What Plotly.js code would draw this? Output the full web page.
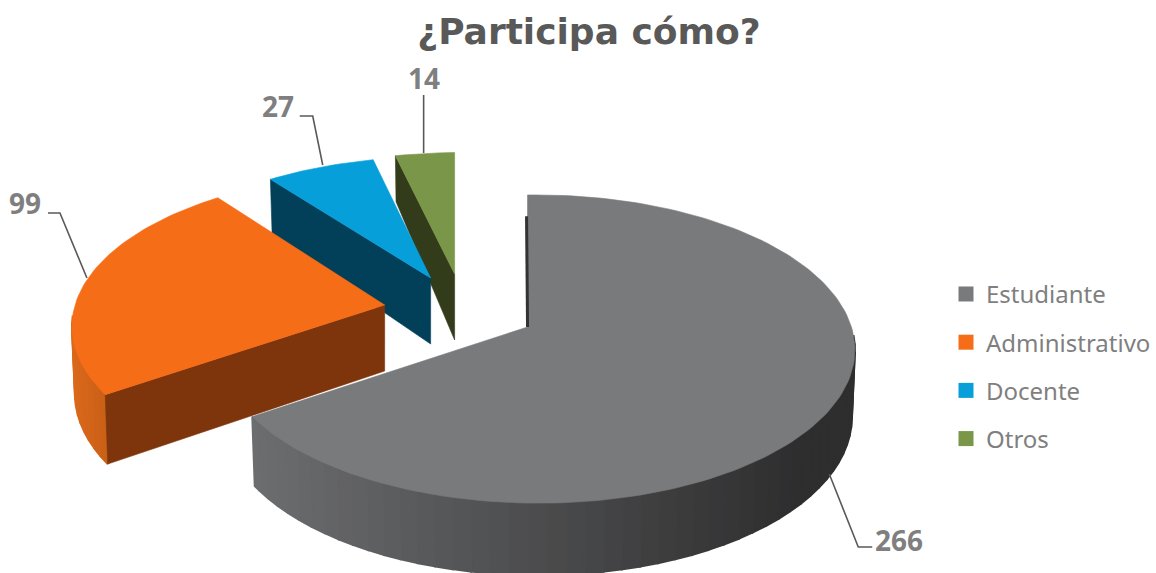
<!DOCTYPE html>
<html><head><meta charset="utf-8">
<script src="https://cdn.plot.ly/plotly-3.0.1.min.js"></script>
<style>html,body{margin:0;padding:0;background:#fff}#c{width:1156px;height:573px}</style>
</head><body><div id="c"></div>
<script>
const categories = ["Estudiante", "Administrativo", "Docente", "Otros"];
const values = [266, 99, 27, 14];
const chartTitle = "¿Participa cómo?";

// view of the tilted disc
const R = 316, RS = 150.9, K = 0.143, J = -0.03;
const topColors = ["#797a7c", "#f66d17", "#069fda", "#7a9648"];
const cutColors = ["#333334", "#7e350b", "#024059", "#323c1a"];
const rimColors = [["#6c6d6f", "#2e2e2f", 253, 800], ["#dc691c", "#c95f16", 69, 105], ["#024059", "#024059", 0, 1], ["#323c1a", "#323c1a", 0, 1]];
const anchors = [[528, 327, .995, 1], [385, 305, 1.01, 1], [431, 278, .97, .92], [455, 274, 1, .92]];
const cutFace = [false, true, true, true]; // the cut side that faces the viewer
const leaders = [
  {pts: [[830, 474], [859, 547], [873, 547]], at: [900, 540]},
  {pts: [[87, 278], [60, 213], [48, 213]], at: [25, 203]},
  {pts: [[323, 165], [313, 116], [300, 116]], at: [278, 106]},
  {pts: [[424, 153], [424, 95]], at: [424, 78]}
];

const total = values.reduce((a, b) => a + b, 0);
const rad = d => d * Math.PI / 180;
function proj(a, deg, r) {
  const u = r * Math.sin(rad(deg)), v = r * Math.cos(rad(deg));
  const w = 1 + K * v + J * u;
  return {x: a[0] + a[2] * R * u / w, y: a[1] - a[3] * RS * v / w, u, v};
}
function low(p) {
  const d = p.v > 0 ? 66 - 22 * Math.pow(p.v, 4) : 66 - 6 * p.v;
  return {x: p.x - 3 * p.u, y: p.y + d};
}
function hex(c) { return [1, 3, 5].map(i => parseInt(c.substr(i, 2), 16)); }
function mix(a, b, t) {
  t = Math.max(0, Math.min(1, t));
  const A = hex(a), B = hex(b);
  return "rgb(" + A.map((v, i) => Math.round(v + (B[i] - v) * t)).join(",") + ")";
}
function poly(pts, color, lw) {
  return {type: "scatter", mode: "lines", x: pts.map(p => p.x).concat(pts[0].x), y: pts.map(p => p.y).concat(pts[0].y),
    fill: "toself", fillcolor: color, line: {color: color, width: lw}, hoverinfo: "skip", showlegend: false};
}

const spans = [];
let acc = 0;
values.forEach(v => { spans.push([acc, acc + v / total * 360]); acc += v / total * 360; });

const traces = [];
[3, 2, 1, 0].forEach(i => {
  const a = anchors[i], s = spans[i];
  // outer wall
  const step = 3;
  for (let d = s[0]; d < s[1]; d += step) {
    const e = Math.min(d + step, s[1]);
    const p = proj(a, d, 1), q = proj(a, e, 1);
    if (p.v > -0.1 && q.v > -0.1) continue;
    const m = rimColors[i];
    const col = mix(m[0], m[1], ((p.x + q.x) / 2 - m[2]) / (m[3] - m[2]));
    traces.push(poly([p, q, low(q), low(p)], col, 2));
  }
  // cut wall
  const ap = proj(a, 0, 0);
  if (cutFace[i]) {
    const edge = proj(a, s[0], 1);
    traces.push(poly([ap, edge, low(edge), low(ap)], cutColors[i], 0.6));
  }
  // top face
  const arc = [ap];
  for (let d = s[0]; d <= s[1] + 1e-6; d += 1.5) arc.push(proj(a, Math.min(d, s[1]), 1));
  arc.push(proj(a, s[1], 1));
  traces.push(poly(arc, topColors[i], 0.6));
  if (i === 0) {
    const t = proj(a, s[0], 0.82);
    traces.push({type: "scatter", mode: "lines", x: [t.x - 1, ap.x], y: [t.y, ap.y], line: {color: cutColors[0], width: 3},
      hoverinfo: "skip", showlegend: false});
  }
});

// leader lines
leaders.forEach(l => traces.push({type: "scatter", mode: "lines", x: l.pts.map(p => p[0]), y: l.pts.map(p => p[1]),
  line: {color: "#595959", width: 1.6}, hoverinfo: "skip", showlegend: false}));

// legend keys
categories.forEach((c, i) => traces.push({type: "scatter", mode: "markers", x: [null], y: [null], name: c, legendgroup: c,
  marker: {symbol: "square", size: 15, color: topColors[i]}, hoverinfo: "skip", showlegend: true}));

const layout = {
  width: 1156, height: 573, margin: {l: 0, r: 0, t: 0, b: 0}, paper_bgcolor: "#fff", plot_bgcolor: "#fff",
  title: {text: "<b>" + chartTitle + "</b>", x: 0.5095, xanchor: "center", y: 0.945, yanchor: "middle",
    font: {family: "DejaVu Sans", size: 36, color: "#595959"}},
  xaxis: {range: [0, 1156], visible: false, fixedrange: true},
  yaxis: {range: [573, 0], visible: false, fixedrange: true},
  showlegend: true,
  legend: {x: 0.819, y: 0.5255, xanchor: "left", yanchor: "top", traceorder: "grouped", tracegroupgap: 14,
    entrywidth: 130, entrywidthmode: "pixels",
    font: {family: "Noto Sans", size: 24, color: "#7f7f7f"}, bgcolor: "rgba(0,0,0,0)"},
  annotations: values.map((v, i) => ({x: leaders[i].at[0], y: leaders[i].at[1], xref: "x", yref: "y", text: "<b>" + v + "</b>",
    showarrow: false, xanchor: "center", yanchor: "middle", font: {family: "Open Sans", size: 28, color: "#7f7f7f"}}))
};
Plotly.newPlot("c", traces, layout, {displayModeBar: false, staticPlot: true});
</script></body></html>
